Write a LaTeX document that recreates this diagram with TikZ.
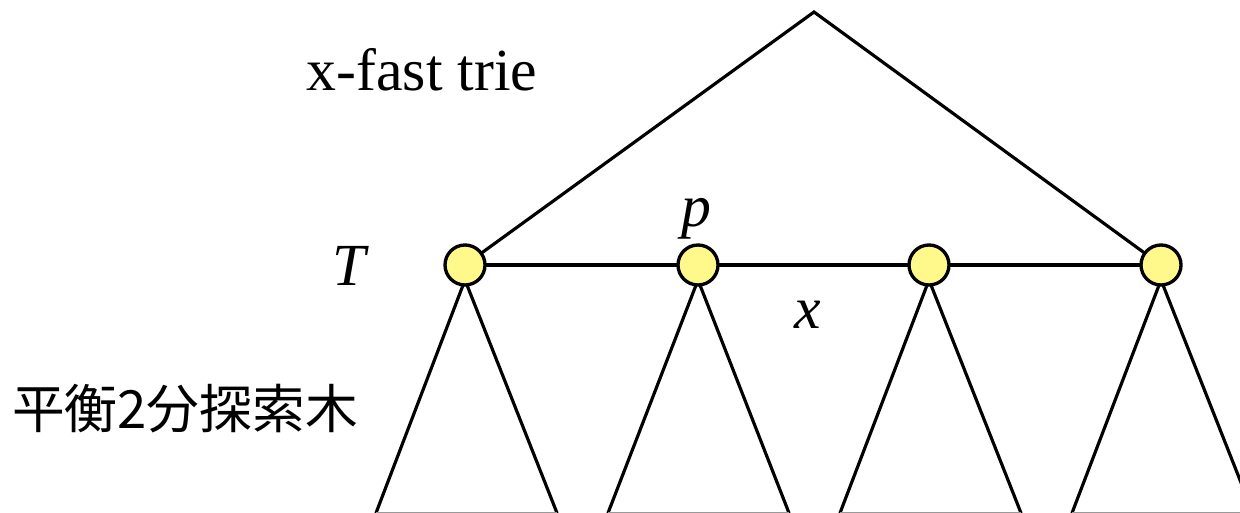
\documentclass[tikz,border=0pt]{standalone}
\usepackage{fontspec}
\setmainfont{Liberation Serif}
\newfontfamily\jpfont{Noto Sans CJK JP}
\begin{document}
\begin{tikzpicture}[x=0.02cm,y=-0.02cm,
  edge/.style={line width=1.8pt, line cap=round, line join=miter},
  vert/.style={circle, draw, line width=1.9pt, fill=yellow!45, minimum size=40*0.02cm, inner sep=0pt},
  lbl/.style={font=\fontsize{34}{40}\selectfont, inner sep=0pt},
  jp/.style={font=\jpfont\fontsize{30}{34}\selectfont, inner sep=0pt}]
\useasboundingbox (0,0) rectangle (1240,513);
% apex of x-fast trie
\coordinate (top) at (814,12);
% subtree base corners
\coordinate (b1l) at (376,513); \coordinate (b1r) at (557,513);
\coordinate (b2l) at (608,513); \coordinate (b2r) at (789,513);
\coordinate (b3l) at (840,513); \coordinate (b3r) at (1021,513);
\coordinate (b4l) at (1072,513); \coordinate (b4r) at (1253,513);
% node positions
\coordinate (c1) at (465,265); \coordinate (c2) at (698,265);
\coordinate (c3) at (929,265); \coordinate (c4) at (1161,265);
% subtrees
\draw[edge] (b1l) -- ([yshift=-0.3cm]c1) -- (b1r);
\draw[edge] (b2l) -- ([yshift=-0.3cm]c2) -- (b2r);
\draw[edge] (b3l) -- ([yshift=-0.3cm]c3) -- (b3r);
\draw[edge] (b4l) -- ([yshift=-0.3cm]c4) -- (b4r);
\draw[line width=0.8pt, black!40] (b1l) -- (b1r) (b2l) -- (b2r) (b3l) -- (b3r) (b4l) -- (b4r);
% top triangle and level line
\draw[edge] (c1) -- (top) -- (c4);
\draw[edge] (c1) -- (c4);
% vertices
\node[vert] (n1) at (c1) {};
\node[vert] (n2) at (c2) {};
\node[vert] (n3) at (c3) {};
\node[vert] (n4) at (c4) {};
% labels
\node[lbl, anchor=base] (xf) at (422,91) {x-fast trie};
\node[lbl, anchor=base] (T) at (351,285) {\textit{T}};
\node[lbl, anchor=base] (p) at (696,227) {\textit{p}};
\node[lbl, anchor=base] (x) at (808,328) {\textit{x}};
\node[jp, anchor=base] (bst) at (185,428) {平衡2分探索木};
\end{tikzpicture}
\end{document}
